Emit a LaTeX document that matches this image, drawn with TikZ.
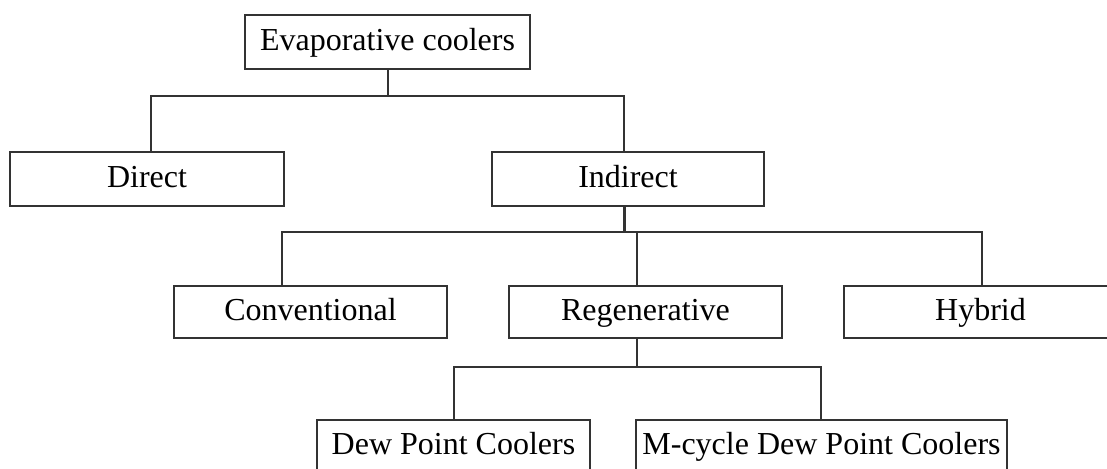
\documentclass[tikz,border=0pt]{standalone}
\usepackage{fontspec}
\setmainfont{Liberation Serif}
\begin{document}
\begin{tikzpicture}[x=0.5pt,y=-0.5pt,
  box/.style={draw=black!80, line width=1pt, minimum height=26pt, inner sep=0pt, text height=11.5pt, text depth=3pt, text=black, font=\fontsize{16}{19}\selectfont},
  conn/.style={draw=black!80, line width=1pt}]
\useasboundingbox (0,0) rectangle (1107,469);
\clip (0,0) rectangle (1107,469);
\fill[white] (0,0) rectangle (1107,469);

\node[box, minimum width=142.5pt, minimum height=27pt] (top) at (387.5,42) {Evaporative coolers};
\node[box, minimum width=137pt, minimum height=27pt] (direct) at (147,179) {Direct};
\node[box, minimum width=136pt, minimum height=27pt] (indirect) at (628,179) {Indirect};
\node[box, minimum width=136.5pt] (conv) at (310.5,312) {Conventional};
\node[box, minimum width=136.5pt] (regen) at (645.5,312) {Regenerative};
\node[box, minimum width=136.5pt] (hybrid) at (980.5,312) {Hybrid};
\node[box, minimum width=136.5pt] (dew) at (453.5,446) {Dew Point Coolers};
\node[box, minimum width=185.5pt] (mcyc) at (821.5,446) {M-cycle Dew Point Coolers};

\coordinate (t1) at (388,96);
\coordinate (d1) at (151,96);
\coordinate (i1) at (624,96);
\draw[conn] (t1 |- top.south) -- (t1);
\draw[conn] (d1 |- direct.north) -- (d1) -- (i1) -- (i1 |- indirect.north);

\coordinate (i2) at (624,232);
\coordinate (c2) at (282,232);
\coordinate (r2) at (637,232);
\coordinate (h2) at (982,232);
\draw[conn, line width=1.5pt] (i2 |- indirect.south) -- (i2);
\draw[conn] (c2 |- conv.north) -- (c2) -- (h2) -- (h2 |- hybrid.north);
\draw[conn] (r2) -- (r2 |- regen.north);

\coordinate (r3) at (637,367);
\coordinate (d3) at (454,367);
\coordinate (m3) at (821,367);
\draw[conn] (r3 |- regen.south) -- (r3);
\draw[conn] (d3 |- dew.north) -- (d3) -- (m3) -- (m3 |- mcyc.north);
\end{tikzpicture}
\end{document}
